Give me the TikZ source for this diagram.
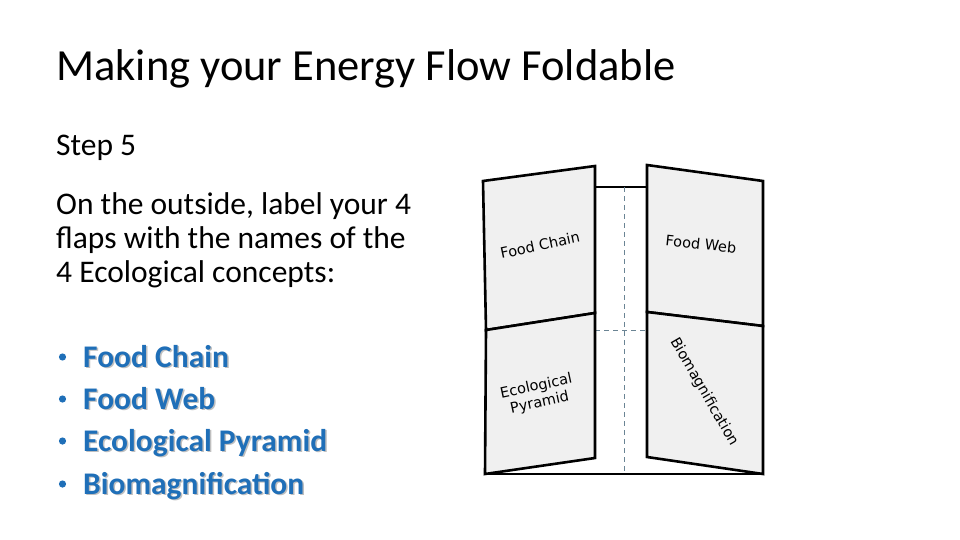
\documentclass[tikz,border=0pt]{standalone}
\usepackage{fontspec}
\setmainfont{Carlito}
\newfontfamily\handfont{DejaVu Sans}
\usetikzlibrary{positioning, calc}
\definecolor{flapgrey}{HTML}{F0F0F0}
\definecolor{itemblue}{HTML}{1F6FB8}
\definecolor{foldline}{HTML}{6A8494}
\newcommand{\shadowitem}[3]{%
  \node[item, text=black!25] at ($(#2)+(1.5,1.5)$) {#3};
  \node[item] (#1) at (#2) {#3};}

\begin{document}
\begin{tikzpicture}[x=1pt, y=-1pt, flap/.style={draw, fill=flapgrey, line width=2.6pt, line join=miter}, fold/.style={draw=foldline, line width=0.9pt, dash pattern=on 5pt off 4pt}, flaplabel/.style={font=\handfont\fontsize{14.5}{17}\selectfont, align=center, inner sep=0pt}, txt/.style={anchor=base west, inner sep=0pt, font=\fontsize{31.5}{38}\selectfont}, item/.style={anchor=base west, inner sep=0pt, font=\fontsize{31.5}{38}\selectfont\bfseries, text=itemblue}]
        \useasboundingbox (0,0) rectangle (960,540);
        \node[txt, font=\fontsize{44.5}{52}\selectfont] (title) at (56,81) {Making your Energy Flow Foldable};
        \node[txt] (step) at (56,156) {Step 5};
        \node[txt] (line1) at (56,214) {On the outside, label your 4};
        \node[txt] (line2) at (56,248) {flaps with the names of the};
        \node[txt] (line3) at (56,282) {4 Ecological concepts:};
        % bullets
        \foreach \y in {357,399,441,484}
            \fill[itemblue] (62.5,\y) circle (3.6pt);
        \coordinate (i1) at (83,367);
        \coordinate (i2) at (83,409);
        \coordinate (i3) at (83,451);
        \coordinate (i4) at (83,494);
        \shadowitem{chain}{i1}{Food Chain}
        \shadowitem{web}{i2}{Food Web}
        \shadowitem{pyramid}{i3}{Ecological Pyramid}
        \shadowitem{biomag}{i4}{Biomagnification}
        % foldable
        \draw[line width=2.6pt] (595,187) -- (647,187);
        \draw[line width=2.6pt] (485,474) -- (763,474);
        \draw[fold] (624,187) -- (624,474);
        \draw[fold] (595,330) -- (647,330);
        \path[flap] (483,181) -- (595,166) -- (595,313) -- (486,330) -- cycle;
        \path[flap] (486,330) -- (595,313) -- (595,458) -- (485,474) -- cycle;
        \path[flap] (647,165) -- (763,181) -- (763,326) -- (647,312) -- cycle;
        \path[flap] (647,312) -- (763,326) -- (763,474) -- (647,457) -- cycle;
        \node[flaplabel, rotate=12] (fchain) at (540,245) {Food Chain};
        \node[flaplabel, rotate=-6] (fweb) at (701,244) {Food Web};
        \node[flaplabel, rotate=12] (fpyr) at (538,395) {Ecological\\Pyramid};
        \node[flaplabel, rotate=-60] (fbio) at (704,392) {Biomagnification};
    \end{tikzpicture}
\end{document}
